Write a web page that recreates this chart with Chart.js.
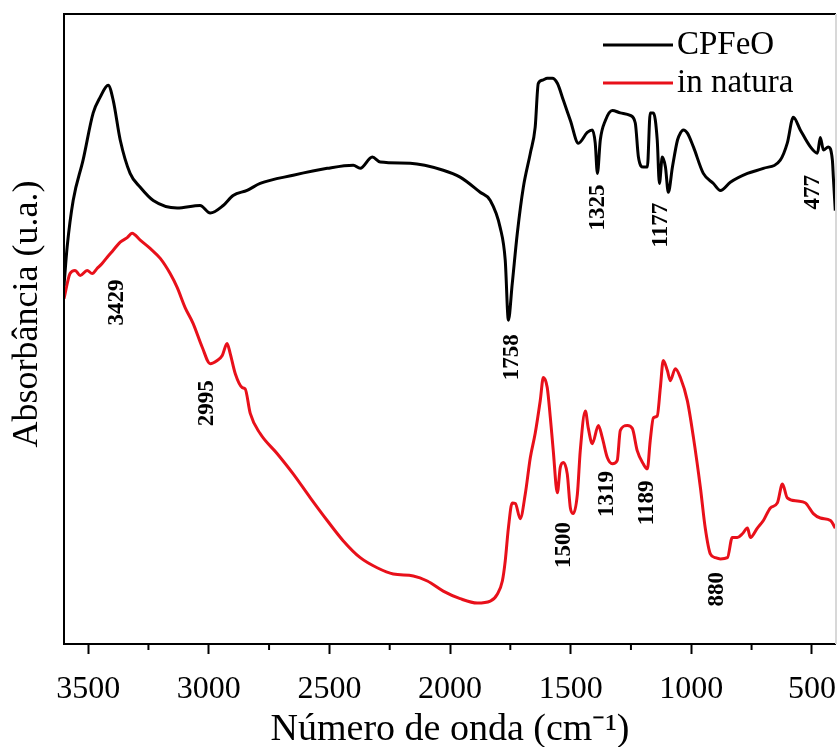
<!DOCTYPE html>
<html>
<head>
<meta charset="utf-8">
<script src="https://cdn.jsdelivr.net/npm/chart.js@4.4.1/dist/chart.umd.min.js"></script>
<style>
  html, body { margin: 0; padding: 0; background: #fff; }
  #wrap { width: 837px; height: 747px; }
</style>
</head>
<body>
<div id="wrap"><canvas id="ftir"></canvas></div>
<script>
// CPFeO spectrum (wavenumber cm-1 / absorbance, arbitrary units)
const cpfeoWavenumber = [
  3600, 3587, 3562, 3521, 3479, 3450, 3417, 3396, 3367, 3326, 3284, 3230, 3131,
  3036, 2994, 2940, 2899, 2841, 2787, 2650, 2509, 2401, 2372, 2322, 2289, 2165,
  2028, 1958, 1875, 1833, 1792, 1771, 1758, 1742, 1721, 1696, 1667, 1647, 1634,
  1617, 1597, 1576, 1555, 1530, 1501, 1468, 1431, 1410, 1398, 1389, 1377, 1356,
  1327, 1294, 1253, 1232, 1219, 1199, 1182, 1170, 1157, 1141, 1132, 1120, 1107,
  1095, 1078, 1057, 1045, 1033, 1016, 991, 950, 908, 879, 838, 767, 701, 631,
  602, 577, 548, 506, 477, 465, 452, 432, 415, 411, 403
];
const cpfeoAbsorbance = [
  56.9, 63.0, 70.4, 76.8, 84.3, 86.8, 88.7, 86.3, 80.0, 74.7, 72.5, 70.4, 69.2,
  69.6, 68.4, 69.6, 71.2, 72.0, 73.1, 74.4, 75.5, 76.0, 75.5, 77.3, 76.5, 76.3,
  75.2, 74.1, 71.7, 70.4, 66.1, 60.9, 51.4, 57.2, 65.2, 72.5, 77.9, 82.0, 89.0,
  89.5, 89.8, 89.8, 89.0, 86.3, 83.1, 79.5, 81.2, 81.6, 79.5, 74.7, 80.0, 83.1,
  84.7, 84.3, 83.9, 82.7, 77.3, 75.7, 75.7, 84.3, 84.3, 80.0, 73.1, 77.3, 75.7,
  71.7, 75.7, 80.0, 81.1, 81.6, 81.1, 78.9, 74.7, 73.1, 72.0, 73.3, 74.7, 75.5, 76.8,
  79.5, 83.6, 81.6, 78.9, 77.9, 80.4, 78.4, 78.9, 76.8, 74.1, 68.8
];

// in natura spectrum
const naturaWavenumber = [
  3600, 3575, 3554, 3533, 3504, 3483, 3463, 3442, 3421, 3396, 3367, 3338, 3318,
  3284, 3243, 3201, 3160, 3131, 3098, 3065, 3027, 2994, 2965, 2944, 2924, 2911,
  2890, 2861, 2849, 2828, 2787, 2716, 2650, 2579, 2509, 2443, 2372, 2302, 2235,
  2152, 2094, 2028, 1958, 1887, 1833, 1804, 1783, 1771, 1758, 1742, 1729, 1709,
  1688, 1667, 1647, 1626, 1613, 1597, 1584, 1572, 1555, 1543, 1530, 1514, 1501,
  1489, 1472, 1460, 1439, 1427, 1410, 1385, 1369, 1348, 1327, 1307, 1294, 1265,
  1244, 1224, 1199, 1182, 1170, 1157, 1141, 1128, 1116, 1099, 1087, 1066, 1045,
  1016, 991, 962, 942, 921, 900, 879, 850, 830, 809, 788, 767, 755, 726, 701,
  672, 643, 622, 602, 560, 527, 494, 465, 423, 403
];
const naturaAbsorbance = [
  54.8, 58.8, 59.3, 58.5, 59.3, 58.8, 59.6, 60.4, 61.4, 62.5, 63.8, 64.5, 65.2,
  64.1, 62.8, 61.2, 58.8, 56.6, 53.4, 50.9, 47.1, 44.5, 45.0, 45.8, 47.7, 46.1,
  42.9, 40.7, 40.5, 36.6, 33.4, 30.2, 27.0, 23.2, 19.6, 16.4, 13.7, 12.1, 11.1,
  10.8, 10.0, 8.4, 7.2, 6.5, 6.8, 7.9, 10.0, 13.2, 18.4, 22.4, 22.3, 19.9,
  23.8, 29.6, 33.4, 38.6, 42.3, 40.7, 35.9, 30.7, 24.0, 28.0, 28.8, 27.0, 21.6,
  20.7, 23.8, 30.7, 37.0, 34.3, 31.8, 34.7, 32.8, 29.6, 28.6, 29.1, 33.9, 34.7,
  34.2, 30.7, 28.6, 27.8, 32.3, 35.9, 36.2, 40.7, 45.0, 43.4, 41.8, 43.7, 42.3,
  38.6, 32.8, 24.8, 18.4, 14.3, 13.7, 13.5, 13.7, 16.9, 16.9, 17.5, 18.4, 16.9, 18.4, 19.6,
  21.6, 22.4, 25.4, 23.2, 22.7, 22.4, 20.7, 20.0, 19.6, 18.4
];

// x axis ticks (labelled every 500, minor in between)
const xTicks = [500, 750, 1000, 1250, 1500, 1750, 2000, 2250, 2500, 2750, 3000, 3250, 3500];

// band labels written on the plot
const bandTexts = ["3429", "2995", "1758", "1325", "1177", "477", "1500", "1319", "1189", "880"];
const bandWavenumber = [3380, 3007, 1742, 1385, 1124, 494, 1526, 1348, 1182, 892];
const bandAbsorbance = [54.2, 38.2, 45.5, 69.3, 66.5, 71.7, 15.7, 23.8, 22.4, 8.7];

const seriesNames = ["CPFeO", "in natura"];
const seriesColors = ["#000000", "#e8101a"];
const yTitle = "Absorbância (u.a.)";

const serif = "'Liberation Serif', 'Times New Roman', serif";

function toPoints(xs, ys) {
  return xs.map((x, i) => ({ x: x, y: ys[i] }));
}

const frame = {
  id: "frame",
  afterDraw(chart) {
    const { ctx, chartArea: a, scales } = chart;
    const xs = scales.x;
    ctx.save();
    // box
    ctx.lineWidth = 2;
    ctx.strokeStyle = "#000";
    ctx.beginPath();
    ctx.moveTo(a.right, a.top);
    ctx.lineTo(a.left, a.top);
    ctx.lineTo(a.left, a.bottom);
    ctx.lineTo(a.right, a.bottom);
    ctx.stroke();
    ctx.strokeStyle = "#d8d8d8";
    ctx.beginPath();
    ctx.moveTo(a.right, a.top);
    ctx.lineTo(a.right, a.bottom);
    ctx.stroke();

    // minor ticks
    ctx.strokeStyle = "#000";
    ctx.lineWidth = 2;
    xs.ticks.forEach(t => {
      if (t.value % 500 !== 0) {
        const px = xs.getPixelForValue(t.value);
        ctx.beginPath();
        ctx.moveTo(px, a.bottom);
        ctx.lineTo(px, a.bottom + 6);
        ctx.stroke();
      }
    });

    // y title
    ctx.fillStyle = "#000";
    ctx.font = "36px " + serif;
    ctx.textAlign = "center";
    ctx.textBaseline = "middle";
    ctx.save();
    ctx.translate(a.left - 36, (a.top + a.bottom) / 2 - 15);
    ctx.rotate(-Math.PI / 2);
    ctx.fillText(yTitle, 0, 0);
    ctx.restore();

    // legend
    ctx.font = "33px " + serif;
    ctx.textAlign = "left";
    chart.data.datasets.forEach((ds, i) => {
      const y = a.top + 31 + i * 38;
      ctx.strokeStyle = ds.borderColor;
      ctx.lineWidth = 3;
      ctx.beginPath();
      ctx.moveTo(a.right - 233, y);
      ctx.lineTo(a.right - 163, y);
      ctx.stroke();
      ctx.fillText(ds.label, a.right - 159, y);
    });

    // band labels
    ctx.font = "bold 23px " + serif;
    ctx.textAlign = "center";
    bandTexts.forEach((txt, i) => {
      const px = xs.getPixelForValue(bandWavenumber[i]);
      const py = scales.y.getPixelForValue(bandAbsorbance[i]);
      ctx.save();
      ctx.translate(px, py);
      ctx.rotate(-Math.PI / 2);
      ctx.fillText(txt, 0, 0);
      ctx.restore();
    });
    ctx.restore();
  }
};

new Chart(document.getElementById("ftir"), {
  type: "line",
  data: {
    datasets: [
      {
        label: seriesNames[0],
        data: toPoints(cpfeoWavenumber, cpfeoAbsorbance),
        borderColor: seriesColors[0],
        borderWidth: 3,
        pointRadius: 0,
        cubicInterpolationMode: "monotone"
      },
      {
        label: seriesNames[1],
        data: toPoints(naturaWavenumber, naturaAbsorbance),
        borderColor: seriesColors[1],
        borderWidth: 3,
        pointRadius: 0,
        cubicInterpolationMode: "monotone"
      }
    ]
  },
  options: {
    responsive: true,
    maintainAspectRatio: false,
    animation: false,
    layout: { padding: { top: 14, right: 1, left: 0, bottom: 0 } },
    plugins: {
      legend: { display: false },
      tooltip: { enabled: false }
    },
    scales: {
      x: {
        type: "linear",
        reverse: true,
        min: 400,
        max: 3600,
        afterBuildTicks: s => { s.ticks = xTicks.map(v => ({ value: v })); },
        afterFit: s => { s.height = 103; },
        border: { display: false },
        grid: {
          drawOnChartArea: false,
          drawTicks: true,
          tickLength: 10,
          tickWidth: 2,
          tickColor: c => (c.tick && c.tick.value % 500 === 0 ? "#000" : "rgba(0,0,0,0)")
        },
        ticks: {
          autoSkip: false,
          maxRotation: 0,
          padding: 16,
          color: "#000",
          font: { family: serif, size: 32 },
          callback: v => (v % 500 === 0 ? String(v) : "")
        },
        title: {
          display: true,
          text: "Número de onda (cm⁻¹)",
          color: "#000",
          font: { family: serif, size: 38, lineHeight: 0.9 },
          padding: { top: 0, bottom: 0 }
        }
      },
      y: {
        min: 0,
        max: 100,
        afterFit: s => { s.width = 64; },
        border: { display: false },
        grid: { display: false, drawTicks: false },
        ticks: { display: false }
      }
    }
  },
  plugins: [frame]
});
</script>
</body>
</html>
